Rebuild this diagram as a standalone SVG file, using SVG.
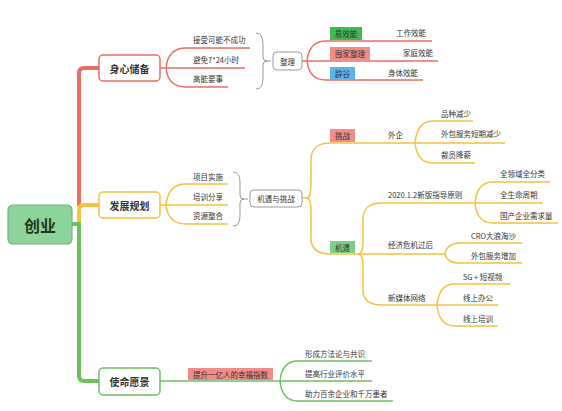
<svg xmlns="http://www.w3.org/2000/svg" width="562" height="411" viewBox="0 0 562 411">
<style>
text{font-family:"Noto Sans CJK SC","Noto Sans",sans-serif;fill:#333;}
.s{font-size:7.5px;}
.m{font-size:10px;font-weight:bold;text-anchor:middle;dominant-baseline:central;}
.c{font-size:7.5px;text-anchor:middle;dominant-baseline:central;}
.r{fill:none;stroke:#ea6e62;stroke-width:1.5;}
.o{fill:none;stroke:#f4c140;stroke-width:1.5;}
.g{fill:none;stroke:#6cc05e;stroke-width:1.5;}
.b{fill:none;stroke:#999;stroke-width:1;}
.box{fill:#fff;stroke-width:1.5;}
</style>
<rect width="562" height="411" fill="#fff"/>
<g id="connectors">
<path d="M79,206 L79,73 Q79,68 84,68 L99,68" fill="none" stroke="#ea6e62" stroke-width="4"/>
<path d="M79,223 L79,210 Q79,205 84,205 L99,205" fill="none" stroke="#f4c140" stroke-width="4"/>
<path d="M72,224 L79,224 M79,222 L79,376 Q79,381 84,381 L99,381" fill="none" stroke="#6cc05e" stroke-width="4"/>
<path class="r" d="M160,68 L166,68 M166,68 Q168,48 186,48 L250,48 M166,68 L245,68 M166,68 Q168,87 186,87 L228,87"/>
<path class="b" d="M256,33 Q263,33 263,45 L263,57 Q263,61 267,61 Q263,61 263,65 L263,78 Q263,89 256,89 M267,61 L271,61"/>
<path class="r" d="M302,61 L307,61 M307,61 Q309,41 326,41 L432,41 M307,61 L438,61 M307,61 Q309,80 326,80 L423,80"/>
<path class="o" d="M160,205 L166,205 M166,205 Q168,184 186,184 L228,184 M166,205 L228,205 M166,205 Q168,224 186,224 L228,224"/>
<path class="b" d="M233,172 Q240,172 240,182 L240,195 Q240,199 244,199 Q240,199 240,203 L240,216 Q240,226 233,226 M244,199 L248,199"/>
<path class="o" d="M302,198 L306,198 C311,198 311,190 311,180 L311,160 C311,149 318,143 330,143 L415,143 M306,198 C311,198 311,206 311,216 L311,238 C311,249 318,254 330,254 L445,254"/>
<path class="o" d="M415,143 Q417,121 433,121 L473,121 M415,143 L505,143 M415,143 Q417,163 433,163 L475,163"/>
<path class="o" d="M358,254 C363,254 363,246 363,236 L363,220 C363,208 369,203 382,203 L475,203 M358,254 C363,254 363,262 363,272 L363,290 C363,300 369,305 382,305 L437,305"/>
<path class="o" d="M475,203 Q477,182 493,182 L550,182 M475,203 L543,203 M475,203 Q477,223 493,223 L558,223"/>
<path class="o" d="M445,254 Q447,243 460,243 L522,243 M445,254 Q447,263 460,263 L522,263"/>
<path class="o" d="M437,305 Q439,284 455,284 L510,284 M437,305 L498,305 M437,305 Q439,326 455,326 L498,326"/>
<path class="g" d="M160,381 L280,381 M280,381 Q282,361 298,361 L372,361 M280,381 L372,381 M280,381 Q282,401 298,401 L393,401"/>
</g>
<g id="root">
<rect x="8" y="205" width="64" height="39" rx="5" fill="#8dd49b" stroke="#72b07e" stroke-width="1.2"/>
<text x="40" y="225" font-size="16" font-weight="bold" text-anchor="middle" dominant-baseline="central" style="fill:#1f3a23">创业</text>
</g>
<g id="n-shenxin">
<rect class="box" x="99" y="55" width="61" height="26" rx="4" stroke="#ea6e62"/>
<text class="m" x="129.5" y="68">身心储备</text>
<text class="s" x="193" y="43">接受可能不成功</text>
<text class="s" x="193" y="63">避免7*24小时</text>
<text class="s" x="193" y="82">高能要事</text>
</g>
<g id="n-zhengli">
<rect x="273" y="52" width="29" height="18" rx="4" fill="#fff" stroke="#999"/>
<text class="c" x="287.5" y="61">整理</text>
<rect x="330" y="27" width="32" height="13" fill="#3dbb4f"/>
<text class="c" x="346" y="33.5">易效能</text>
<text class="s" x="396" y="36">工作效能</text>
<rect x="330" y="47" width="40" height="13" fill="#f08c8a"/>
<text class="c" x="350" y="53.5">囤家整理</text>
<text class="s" x="403" y="56">家庭效能</text>
<rect x="330" y="67" width="25" height="13" fill="#59b5ea"/>
<text class="c" x="342.5" y="73.5">辟谷</text>
<text class="s" x="388" y="76">身体效能</text>
</g>
<g id="n-fazhan">
<rect class="box" x="99" y="192" width="61" height="26" rx="4" stroke="#f4c140"/>
<text class="m" x="129.5" y="205">发展规划</text>
<text class="s" x="193" y="180">项目实施</text>
<text class="s" x="193" y="200">培训分享</text>
<text class="s" x="193" y="219">资源整合</text>
</g>
<g id="n-jiyu-tiaozhan">
<rect x="250" y="190" width="52" height="17" rx="4" fill="#fff" stroke="#999"/>
<text class="c" x="276" y="198.5">机遇与挑战</text>
</g>
<g id="n-tiaozhan">
<rect x="330" y="129" width="25" height="13" fill="#f08c8a"/>
<text class="c" x="342.5" y="135.5">挑战</text>
<text class="s" x="388" y="138">外企</text>
<text class="s" x="441" y="117">品种减少</text>
<text class="s" x="441" y="137">外包服务短期减少</text>
<text class="s" x="441" y="158">裁员降薪</text>
</g>
<g id="n-jiyu">
<rect x="330" y="241" width="25" height="12" fill="#7ccf8b"/>
<text class="c" x="342.5" y="247">机遇</text>
<text class="s" x="388" y="198">2020.1.2新版指导原则</text>
<text class="s" x="500" y="177">全领域全分类</text>
<text class="s" x="500" y="198">全生命周期</text>
<text class="s" x="500" y="219">国产企业需求量</text>
<text class="s" x="388" y="248">经济危机过后</text>
<text class="s" x="471" y="239">CRO大浪淘沙</text>
<text class="s" x="471" y="259">外包服务增加</text>
<text class="s" x="388" y="301">新媒体网络</text>
<text class="s" x="463" y="280">5G + 短视频</text>
<text class="s" x="463" y="301">线上办公</text>
<text class="s" x="463" y="322">线上培训</text>
</g>
<g id="n-shiming">
<rect class="box" x="99" y="368" width="61" height="27" rx="4" stroke="#6cc05e"/>
<text class="m" x="129.5" y="381.5">使命愿景</text>
<rect x="188" y="368" width="85" height="12" fill="#f08c8a"/>
<text class="c" x="230.5" y="374">提升一亿人的幸福指数</text>
<text class="s" x="305" y="357">形成方法论与共识</text>
<text class="s" x="305" y="377">提高行业评价水平</text>
<text class="s" x="305" y="397">助力百余企业和千万患者</text>
</g>
</svg>
